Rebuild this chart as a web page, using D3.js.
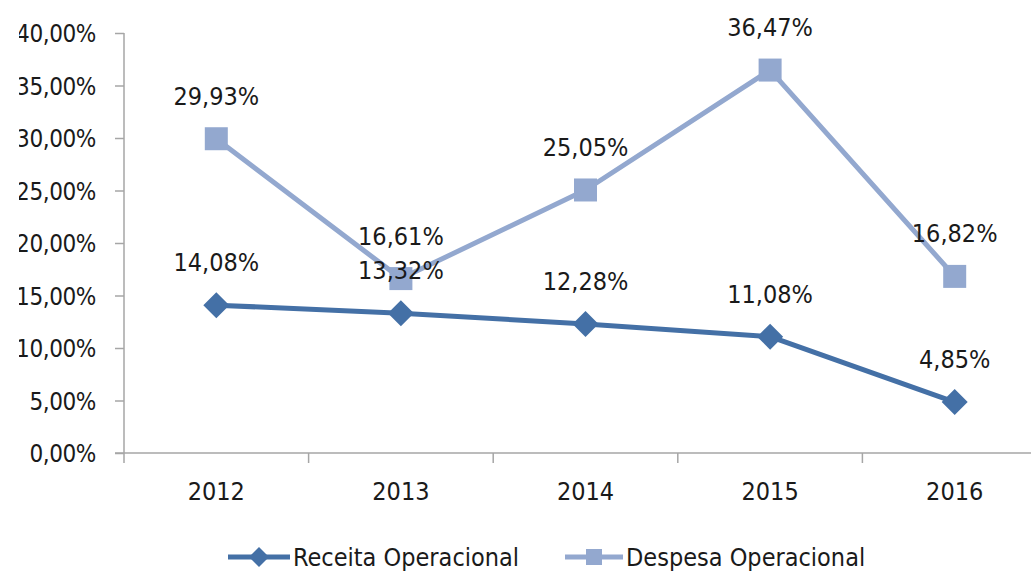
<!DOCTYPE html>
<html><head><meta charset="utf-8">
<script src="https://cdn.jsdelivr.net/npm/d3@7"></script>
<style>
html,body{margin:0;padding:0;background:#fff;}
svg text{font-family:"Liberation Sans Narrow","DejaVu Sans Condensed",sans-serif;fill:#1a1a1a;}
</style></head>
<body><svg id="c" width="1031" height="573"></svg>
<script>
const categories = ["2012","2013","2014","2015","2016"];
const receita = [14.08, 13.32, 12.28, 11.08, 4.85];
const despesa = [29.93, 16.61, 25.05, 36.47, 16.82];
const yTicks = [0,5,10,15,20,25,30,35,40];
const seriesNames = ["Receita Operacional","Despesa Operacional"];

const svg = d3.select("#c");
const axisColor = "#a6a6a6";
const cReceita = "#4470a6", cDespesa = "#93a8cf";
const fs = 25;
const fmt = v => v.toFixed(2).replace(".", ",") + "%";

const x = d3.scaleBand().domain(categories).range([124, 124 + 5*184.6]);
const y = d3.scaleLinear().domain([0,40]).range([453, 33]);
const cx = c => x(c) + x.bandwidth()/2;

// clip for y labels
svg.append("clipPath").attr("id","lc").append("rect").attr("x",19).attr("y",0).attr("width",1010).attr("height",573);

// y axis
const yAxis = d3.axisLeft(y).tickValues(yTicks).tickSize(9).tickPadding(19).tickFormat(fmt);
const gyWrap = svg.append("g").attr("clip-path","url(#lc)");
const gy = gyWrap.append("g").attr("transform","translate(124,0)").call(yAxis);
gy.attr("font-family",null).attr("font-size",null);
gy.select(".domain").remove();
gy.selectAll(".tick line").attr("stroke",axisColor).attr("stroke-width",1.5);
gy.selectAll(".tick text").attr("font-size",24).attr("fill","#1a1a1a").attr("dy","0.36em").attr("letter-spacing",-0.4);
svg.append("line").attr("x1",124).attr("x2",124).attr("y1",33).attr("y2",463).attr("stroke",axisColor).attr("stroke-width",1.5);

// x axis
svg.append("line").attr("x1",115).attr("x2",1031).attr("y1",453).attr("y2",453).attr("stroke",axisColor).attr("stroke-width",1.5);
const boundaries = categories.map(c => x(c)).slice(1);
svg.append("g").selectAll("line").data(boundaries).join("line")
  .attr("x1",d=>d).attr("x2",d=>d).attr("y1",453).attr("y2",463).attr("stroke",axisColor).attr("stroke-width",1.5);
svg.append("g").selectAll("text").data(categories).join("text")
  .attr("x",d=>cx(d)).attr("y",500).attr("text-anchor","middle").attr("font-size",fs).text(d=>d);

const line = d3.line().x((d,i)=>cx(categories[i])).y(d=>y(d));

function diamond(g, px, py, r, col){
  g.append("path").attr("d",`M${px},${py-r}L${px+r},${py}L${px},${py+r}L${px-r},${py}Z`).attr("fill",col);
}
function square(g, px, py, s, col){
  g.append("rect").attr("x",px-s/2).attr("y",py-s/2).attr("width",s).attr("height",s).attr("fill",col);
}

// Despesa
svg.append("path").datum(despesa).attr("d",line).attr("fill","none").attr("stroke",cDespesa).attr("stroke-width",5).attr("stroke-linejoin","round");
const gd = svg.append("g");
despesa.forEach((v,i)=> square(gd, cx(categories[i]), y(v), 23, cDespesa));
// Receita
svg.append("path").datum(receita).attr("d",line).attr("fill","none").attr("stroke",cReceita).attr("stroke-width",5).attr("stroke-linejoin","round");
const gr = svg.append("g");
receita.forEach((v,i)=> diamond(gr, cx(categories[i]), y(v), 13, cReceita));

// labels
[despesa, receita].forEach(arr => {
  svg.append("g").selectAll("text").data(arr).join("text")
    .attr("x",(d,i)=>cx(categories[i])).attr("y",d=>y(d)-34).attr("text-anchor","middle").attr("font-size",fs).text(d=>fmt(d));
});

// legend
const lg = svg.append("g");
const ly = 557;
lg.append("line").attr("x1",228).attr("x2",290).attr("y1",ly).attr("y2",ly).attr("stroke",cReceita).attr("stroke-width",5);
diamond(lg, 259, ly, 10, cReceita);
lg.append("text").attr("x",293).attr("y",ly+9).attr("font-size",fs).text(seriesNames[0]);
lg.append("line").attr("x1",565).attr("x2",623).attr("y1",ly).attr("y2",ly).attr("stroke",cDespesa).attr("stroke-width",5);
square(lg, 594, ly, 16, cDespesa);
lg.append("text").attr("x",626).attr("y",ly+9).attr("font-size",fs).text(seriesNames[1]);
</script></body></html>
